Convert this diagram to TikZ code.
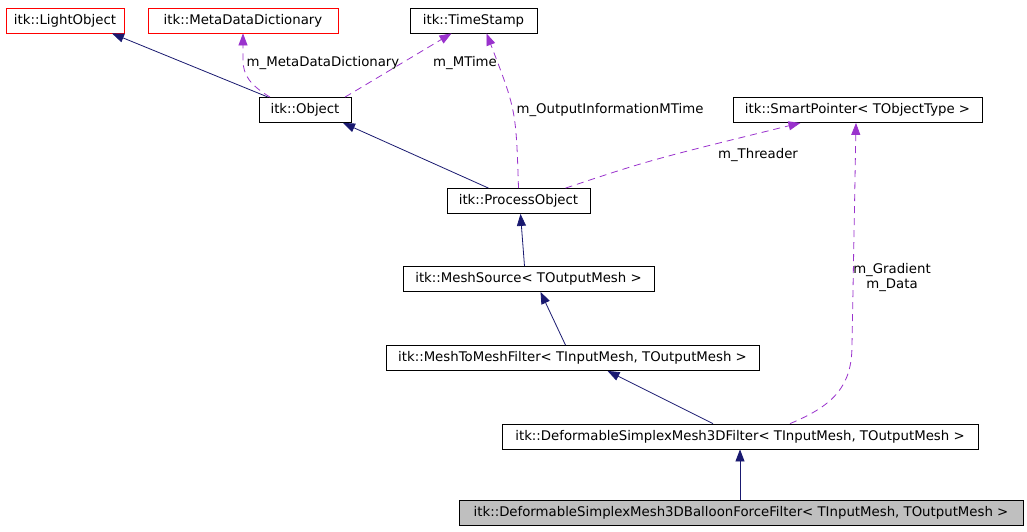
\documentclass[tikz,border=0pt]{standalone}
\usepackage{fontspec}
\setmainfont{DejaVu Sans}
\usepackage{xcolor}
\usetikzlibrary{arrows.meta}
\definecolor{dxnavy}{RGB}{25,25,112}
\definecolor{dxpurple}{RGB}{154,50,205}
\definecolor{dxgrey}{RGB}{191,191,191}
\tikzset{
  cls/.style={rectangle, draw=black, fill=white, minimum height=25pt, inner sep=0pt,
              line width=0.8pt, font=\fontsize{13.3}{15}\selectfont},
  redcls/.style={cls, draw=red},
  curcls/.style={cls, fill=dxgrey},
  inherit/.style={-{Triangle[length=12pt,width=9pt]}, dxnavy, line width=0.8pt},
  usage/.style={-{Triangle[length=12pt,width=9pt]}, dxpurple, line width=0.8pt,
                dash pattern=on 7pt off 5pt},
  lbl/.style={font=\fontsize{13.3}{15}\selectfont, inner sep=0pt, align=center}
}

\begin{document}
\begin{tikzpicture}[x=1pt,y=-1pt]
        \useasboundingbox[fill=white] (0,0) rectangle (1027,531);
        % classes
        \node[redcls, minimum width=118pt] (light) at (65,20.5) {itk::LightObject};
        \node[redcls, minimum width=190pt] (meta) at (243,20.5) {itk::MetaDataDictionary};
        \node[cls, minimum width=127pt] (ts) at (473.5,20.5) {itk::TimeStamp};
        \node[cls, minimum width=92pt] (obj) at (305,110) {itk::Object};
        \node[cls, minimum width=249pt] (sp) at (857.5,110) {itk::SmartPointer< TObjectType >};
        \node[cls, minimum width=143pt] (po) at (518.5,201) {itk::ProcessObject};
        \node[cls, minimum width=251pt] (ms) at (528.5,279) {itk::MeshSource< TOutputMesh >};
        \node[cls, minimum width=373pt] (mm) at (572.5,358) {itk::MeshToMeshFilter< TInputMesh, TOutputMesh >};
        \node[cls, minimum width=476pt] (dsm) at (740,436.5) {itk::DeformableSimplexMesh3DFilter< TInputMesh, TOutputMesh >};
        \node[curcls, minimum width=564pt] (bal) at (741,513) {itk::DeformableSimplexMesh3DBalloonForceFilter< TInputMesh, TOutputMesh >};
        % inheritance
        \draw[inherit] ([xshift=-37pt]obj.north) -- ([xshift=47pt]light.south);
        \draw[inherit] ([xshift=-30pt]po.north) -- ([xshift=38pt]obj.south);
        \draw[inherit] ([xshift=-4pt]ms.north) -- ([xshift=2pt]po.south);
        \draw[inherit] ([xshift=-7pt]mm.north) -- ([xshift=12pt]ms.south);
        \draw[inherit] ([xshift=-27pt]dsm.north) -- ([xshift=35pt]mm.south);
        \draw[inherit] ([xshift=-1pt]bal.north) -- (dsm.south);
        % members
        \draw[usage] ([xshift=-35pt]obj.north) .. controls (250,85) and (243,75) .. (243,60) -- (meta.south);
        \draw[usage] ([xshift=40pt]obj.north) -- ([xshift=-22pt]ts.south);
        \draw[usage] (po.north) .. controls (516,110) .. ([xshift=13pt]ts.south);
        \draw[usage] ([xshift=47pt]po.north) .. controls (650,160) .. ([xshift=-57pt]sp.south);
        \draw[usage] ([xshift=50pt]dsm.north) .. controls (835,405) and (852,385) .. (852,345) -- ([xshift=-1.5pt]sp.south);
        % labels
        \node[lbl] (lmeta) at (323,63) {m\_MetaDataDictionary};
        \node[lbl] (lmt) at (465,63) {m\_MTime};
        \node[lbl] (lout) at (610,110) {m\_OutputInformationMTime};
        \node[lbl] (lthr) at (758,155) {m\_Threader};
        \node[lbl] (lgrad) at (892,278) {m\_Gradient\\m\_Data};
      \end{tikzpicture}
\end{document}
